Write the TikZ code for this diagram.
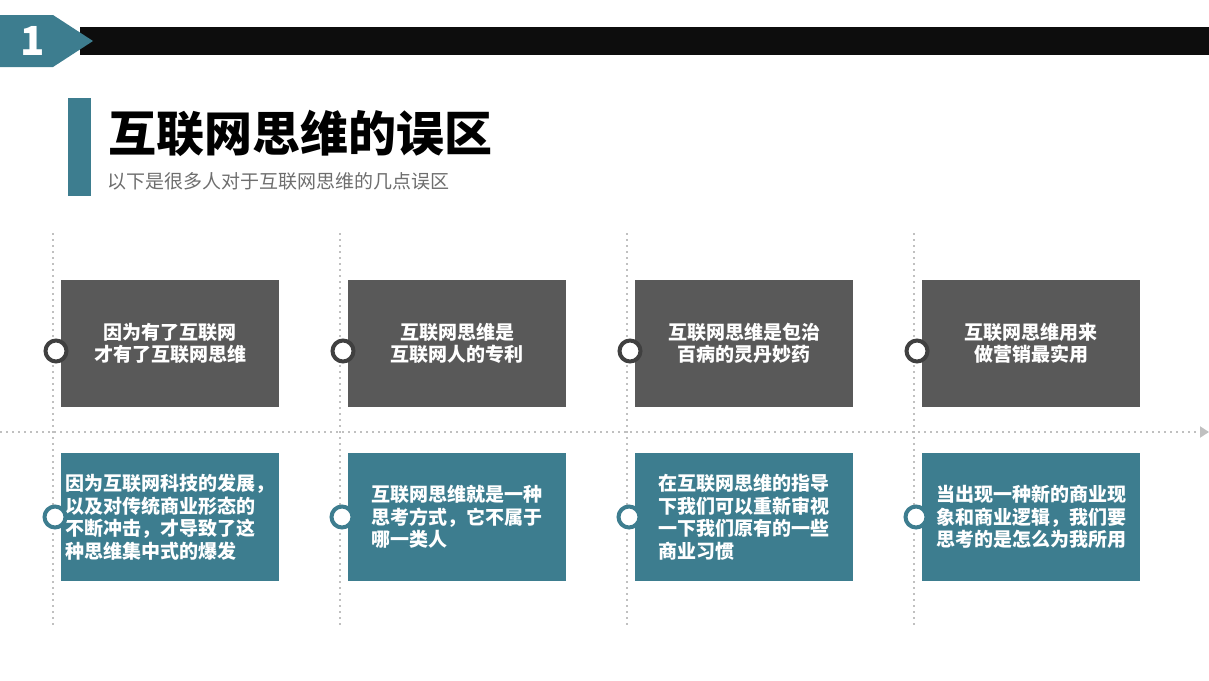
\documentclass[tikz,border=0pt]{standalone}
\usepackage{fontspec}
\usepackage{tikz}
\usetikzlibrary{arrows.meta, positioning}
\newfontfamily\cjk{Noto Sans CJK SC}
\definecolor{tealc}{HTML}{3D7D8F}
\definecolor{darkbox}{HTML}{595959}
\definecolor{ringgray}{HTML}{404040}
\definecolor{dotgray}{HTML}{C0C0C0}
\definecolor{barblack}{HTML}{0D0D0D}
\definecolor{subgray}{HTML}{6E6E6E}

\tikzset{
  mythbox/.style={fill=darkbox, text=white, minimum width=218pt, minimum height=127pt,
    inner sep=0pt, align=center, font=\cjk\bfseries\fontsize{19}{22}\selectfont},
  ideabox/.style={fill=tealc, text=white, minimum width=218pt, minimum height=128pt,
    inner sep=0pt, align=left, font=\cjk\bfseries\fontsize{19}{22.5}\selectfont},
  ring/.style={circle, fill=white, line width=4pt, minimum size=21pt, inner sep=0pt},
  dotline/.style={dotgray, line width=2pt, dash pattern=on 2pt off 4pt},
}

\begin{document}
\begin{tikzpicture}[x={(1pt,0)}, y={(0,-1pt)}]
    \useasboundingbox (0,0) rectangle (1209,680);

    % header bar
    \fill[barblack] (80,27) rectangle (1209,55);
    \fill[tealc] (0,15) -- (53,15) -- (93,41) -- (53,67) -- (0,67) -- cycle;
    \node[text=white, font=\cjk\bfseries\fontsize{40}{40}\selectfont] (num) at (33,41) {1};

    % title
    \fill[tealc] (68,98) rectangle (91,196);
    \node[anchor=west, inner sep=0pt, font=\cjk\bfseries\fontsize{48}{48}\selectfont] (title) at (108,133) {互联网思维的误区};
    \node[anchor=west, inner sep=0pt, text=subgray, font=\cjk\fontsize{19}{19}\selectfont] (subtitle) at (107,181) {以下是很多人对于互联网思维的几点误区};

    % timeline
    \foreach \i in {0,...,3}
        \draw[dotline] ({53+287*\i},233) -- ({53+287*\i},627);
    \coordinate (axisstart) at (0,432);
    \coordinate (axisend) at (1209,432);
    \draw[dotline, -{Triangle[length=9pt,width=11pt]}] (axisstart) -- (axisend);

    % upper boxes
    \node[mythbox] (myth1) at (170,343.5) {因为有了互联网\\才有了互联网思维};
    \node[mythbox] (myth2) at (457,343.5) {互联网思维是\\互联网人的专利};
    \node[mythbox] (myth3) at (744,343.5) {互联网思维是包治\\百病的灵丹妙药};
    \node[mythbox] (myth4) at (1031,343.5) {互联网思维用来\\做营销最实用};

    % lower boxes
    \node[ideabox] (idea1) at (170,517) {因为互联网科技的发展，\\以及对传统商业形态的\\不断冲击，才导致了这\\种思维集中式的爆发};
    \node[ideabox] (idea2) at (457,517) {互联网思维就是一种\\思考方式，它不属于\\哪一类人};
    \node[ideabox] (idea3) at (744,517) {在互联网思维的指导\\下我们可以重新审视\\一下我们原有的一些\\商业习惯};
    \node[ideabox] (idea4) at (1031,517) {当出现一种新的商业现\\象和商业逻辑，我们要\\思考的是怎么为我所用};

    % rings
    \foreach \i in {1,...,4} {
        \node[ring, draw=ringgray] (topring\i) at ({56+287*(\i-1)},351) {};
        \node[ring, draw=tealc] (botring\i) at ({55+287*(\i-1)},517) {};
    }
\end{tikzpicture}
\end{document}
